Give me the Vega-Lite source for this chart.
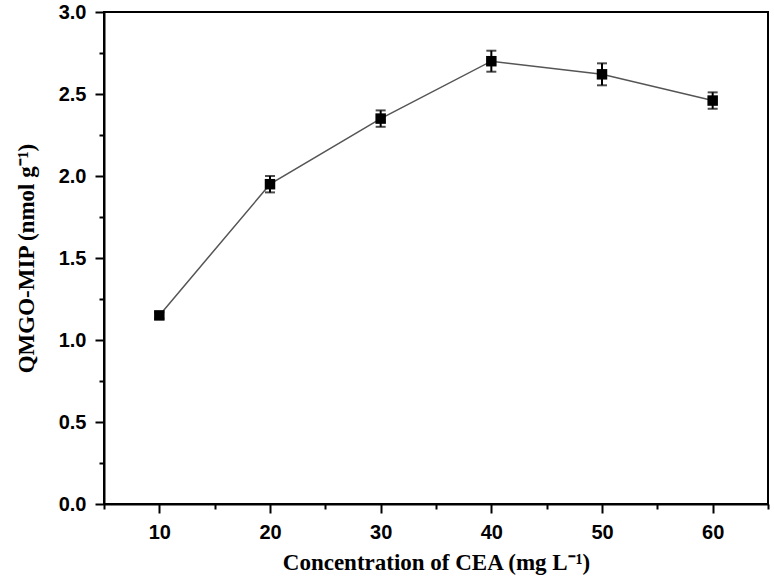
{
  "$schema": "https://vega.github.io/schema/vega-lite/v6.json",
  "width": 664,
  "height": 492,
  "autosize": "none",
  "padding": {"left": 104, "top": 12, "right": 6, "bottom": 76},
  "background": "white",
  "config": {
    "view": {"stroke": "black", "strokeWidth": 2},
    "axis": {
      "domainColor": "black", "domainWidth": 2, "tickColor": "black", "tickWidth": 2,
      "grid": false, "labelFont": "Liberation Sans", "labelFontWeight": "bold", "labelFontSize": 20,
      "labelColor": "black", "titleFont": "Liberation Serif", "titleFontWeight": "bold",
      "titleFontSize": 23, "titleColor": "black"
    }
  },
  "data": {
    "values": [
      {"c": 10, "q": 1.15, "err": 0.02},
      {"c": 20, "q": 1.95, "err": 0.05},
      {"c": 30, "q": 2.35, "err": 0.05},
      {"c": 40, "q": 2.70, "err": 0.064},
      {"c": 50, "q": 2.62, "err": 0.067},
      {"c": 60, "q": 2.46, "err": 0.05}
    ]
  },
  "encoding": {
    "x": {
      "field": "c", "type": "quantitative",
      "scale": {"domain": [5, 65], "nice": false, "zero": false},
      "axis": {
        "title": "Concentration of CEA (mg L⁻¹)",
        "values": [5, 10, 15, 20, 25, 30, 35, 40, 45, 50, 55, 60, 65],
        "labelExpr": "datum.value % 10 == 0 ? datum.label : ''",
        "tickSize": {"condition": {"test": "datum.value % 10 != 0", "value": 5}, "value": 9},
        "labelPadding": 9,
        "titlePadding": 9
      }
    }
  },
  "layer": [
    {
      "mark": {"type": "line", "color": "#555555", "strokeWidth": 1.5},
      "encoding": {
        "y": {
          "field": "q", "type": "quantitative", "title": "QMGO-MIP (nmol g⁻¹)",
          "scale": {"domain": [0, 3], "nice": false},
          "axis": {
            "title": "QMGO-MIP (nmol g⁻¹)",
            "values": [0, 0.25, 0.5, 0.75, 1, 1.25, 1.5, 1.75, 2, 2.25, 2.5, 2.75, 3],
            "format": ".1f",
            "labelExpr": "(datum.value * 2) % 1 == 0 ? datum.label : ''",
            "tickSize": {"condition": {"test": "(datum.value * 2) % 1 != 0", "value": 5}, "value": 9},
            "labelPadding": 9,
            "titlePadding": 20
          }
        }
      }
    },
    {
      "mark": {"type": "errorbar", "ticks": {"size": 10, "thickness": 2, "color": "black"}, "color": "black", "thickness": 2},
      "encoding": {
        "y": {"field": "q", "type": "quantitative", "title": "QMGO-MIP (nmol g⁻¹)"},
        "yError": {"field": "err"}
      }
    },
    {
      "mark": {"type": "square", "color": "black", "opacity": 1, "filled": true, "size": 110},
      "encoding": {"y": {"field": "q", "type": "quantitative", "title": "QMGO-MIP (nmol g⁻¹)"}}
    }
  ]
}
